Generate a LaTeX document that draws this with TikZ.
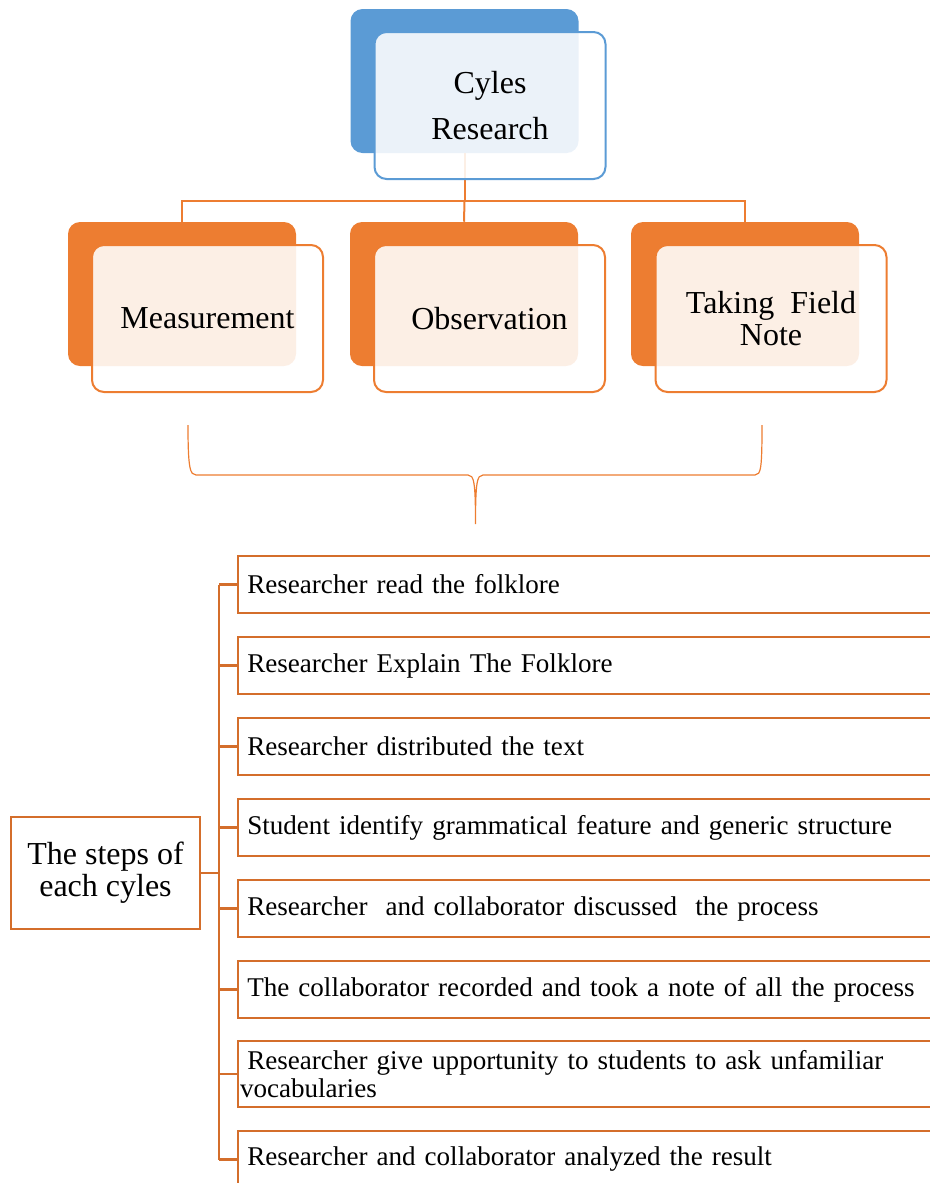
\documentclass[tikz,border=0pt]{standalone}
\usepackage{fontspec}
\setmainfont{Liberation Serif}
\usetikzlibrary{positioning}

\definecolor{cyblue}{HTML}{5B9BD5}
\definecolor{cyorange}{HTML}{ED7D31}
\definecolor{steporange}{HTML}{D46E2B}

\tikzset{
	backbox/.style={rounded corners=9pt, minimum width=171pt, minimum height=108pt, inner sep=0pt},
	frontbox/.style={draw, line width=1.5pt, rounded corners=9pt, fill=white, fill opacity=0.88, text opacity=1, minimum width=173.25pt, minimum height=110.25pt, inner sep=0pt, align=center, text=black, font=\fontsize{24}{24}\selectfont},
	link/.style={cyorange, line width=1.5pt},
	stepbox/.style={draw=steporange, line width=1.5pt, anchor=west, minimum height=42.75pt, text width=560pt, inner xsep=7pt, inner ysep=0pt, align=left, font=\fontsize{20.3}{21}\selectfont},
	cyclebox/.style={draw=steporange, line width=1.5pt, minimum width=141.75pt, minimum height=84pt, inner sep=0pt, align=center, font=\fontsize{24}{24}\selectfont},
	branch/.style={steporange, line width=1.6pt}
}

\begin{document}
\begin{tikzpicture}[x=0.75pt,y=-0.75pt]
	
	\clip (0,0) rectangle (930,1183);
	
	\node[backbox, fill=cyblue] (cyback) at (464.5,81) {};
	\node[backbox, fill=cyorange] (measback) at (182,294) {};
	\node[backbox, fill=cyorange] (obsback) at (464,294) {};
	\node[backbox, fill=cyorange] (fieldback) at (745,294) {};
	
	\draw[link] (cyback.south) -- ++(0,48) coordinate (hub);
	\draw[link] (hub) -| (measback.north);
	\draw[link] (hub) -- (obsback.north);
	\draw[link] (hub) -| (fieldback.north);
	
	\node[frontbox, draw=cyblue, font=\fontsize{24}{34.5}\selectfont] (cyfront) at (490,105.5) {Cyles\\Research};
	\node[frontbox, draw=cyorange] (measfront) at (207.5,318.5) {Measurement};
	\node[frontbox, draw=cyorange] (obsfront) at (489.5,318.5) {Observation};
	\node[frontbox, draw=cyorange] (fieldfront) at (771,318.5) {Taking\ \ Field\\Note};
	
	\draw[cyorange, line width=0.9pt] (188,425) .. controls (188,468) and (190,475) .. (196,475) -- (468,475) .. controls (474,475) and (475.5,482) .. (475.5,524) .. controls (475.5,482) and (477,475) .. (483,475) -- (755,475) .. controls (761,475) and (762,468) .. (762,425);
	
	\node[cyclebox] (steps) at (105.5,873) {The steps of\\each cyles};
	
	\node[stepbox] (s1) at (237,584.5) {Researcher read the folklore};
	\node[stepbox] (s2) at (237,665.5) {Researcher Explain The Folklore};
	\node[stepbox] (s3) at (237,746.5) {Researcher distributed the text};
	\node[stepbox] (s4) at (237,827.5) {Student identify grammatical feature and generic structure};
	\node[stepbox] (s5) at (237,908.5) {Researcher\ \ and collaborator discussed\ \ the process};
	\node[stepbox] (s6) at (237,989.5) {The collaborator recorded and took a note of all the process};
	\node[stepbox, minimum height=49.5pt, inner xsep=1.5pt, text width=571pt] (s7) at (237,1074) {\hspace*{5.5pt}Researcher give upportunity to students to ask unfamiliar\\vocabularies};
	\node[stepbox] (s8) at (237,1159.5) {Researcher and collaborator analyzed the result};
	
	\draw[branch] (steps.east) -- ++(18,0) coordinate (trunk);
	\draw[branch] (trunk |- s1.west) -- (trunk |- s8.west);
	\draw[branch] (trunk |- s1.west) -- (s1.west);
	\draw[branch] (trunk |- s2.west) -- (s2.west);
	\draw[branch] (trunk |- s3.west) -- (s3.west);
	\draw[branch] (trunk |- s4.west) -- (s4.west);
	\draw[branch] (trunk |- s5.west) -- (s5.west);
	\draw[branch] (trunk |- s6.west) -- (s6.west);
	\draw[branch] (trunk |- s7.west) -- (s7.west);
	\draw[branch] (trunk |- s8.west) -- (s8.west);
	 
\end{tikzpicture}
\end{document}
